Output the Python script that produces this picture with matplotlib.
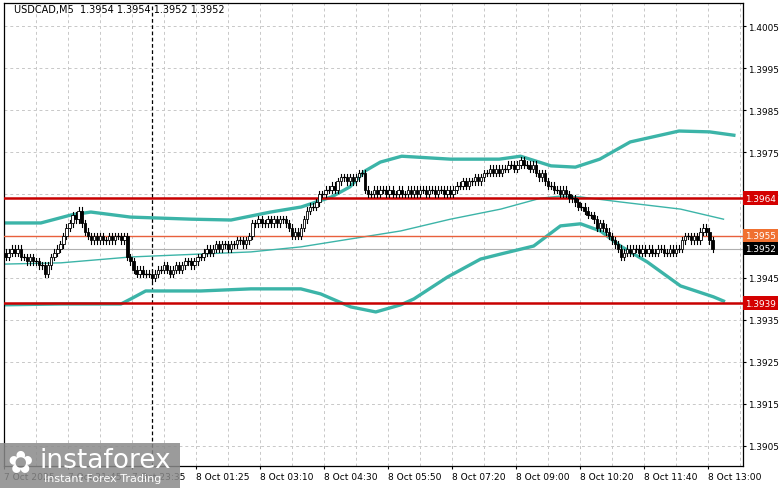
import matplotlib
matplotlib.use("Agg")
import matplotlib.pyplot as plt
from matplotlib.patches import Rectangle
import numpy as np

# closes in pips above 1.3900
close_pips = [50,51,52,51,52,50,50,49,50,49,49,48,48,
              46,48,50,51,52,53,
              55,57,58,60,59,61,58,56,
              55,54,55,54,55,54,54,55,54,55,55,54,55,
              50,49,47,46,47,46,46,46,
              45,46,47,47,48,47,46,47,48,47,
              48,49,49,48,49,50,50,51,
              52,51,52,53,52,53,53,52,53,53,54,
              54,53,54,55,
              58,58,59,58,58,59,58,59,58,59,59,58,57,
              55,56,55,57,59,
              61,62,62,63,65,65,66,66,
              67,66,68,69,69,68,69,68,69,70,70,
              66,65,65,66,65,66,66,65,66,65,65,66,65,65,66,65,66,65,66,66,65,66,66,65,66,66,65,66,65,
              66,67,67,68,67,68,68,69,68,69,
              70,70,71,70,71,70,71,71,72,72,71,72,73,72,72,71,72,
              70,69,70,68,67,67,66,66,65,66,65,64,64,63,62,62,61,60,60,59,57,58,57,56,55,54,53,52,50,
              51,52,51,52,52,51,52,51,52,51,51,52,52,51,51,52,51,52,52,
              54,55,55,54,55,54,56,57,56,54,52]
closes = [1.39 + v / 10000 for v in close_pips]
opens = [closes[0] + 0.0001] + closes[:-1]

upper_x = [-0.5,11.6,21.5,28,41,61,74,87,97,107,113,118,123,130,146,162,169,179,187,195,205,221,231,239]
upper_y = [1.39581,1.39581,1.39600,1.39607,1.39595,1.39590,1.39588,1.39607,1.39619,1.39643,1.39667,1.39705,1.39726,1.39740,1.39733,1.39733,1.39740,1.39717,1.39714,1.39733,1.39774,1.39800,1.39798,1.39790]
lower_x = [-0.5,18.2,37.9,41.1,46,64.1,80.5,96.9,103.4,113.3,121.5,129.7,134,145,155.9,162.5,173.3,182.1,188.7,195.2,201.8,210.6,221.5,232.3,235.6]
lower_y = [1.39386,1.39388,1.39388,1.39400,1.39419,1.39419,1.39424,1.39424,1.39412,1.39381,1.39369,1.39386,1.39400,1.39452,1.39495,1.39507,1.39526,1.39574,1.39579,1.39562,1.39526,1.39488,1.39431,1.39405,1.39395]
mid_x = [-0.5,18.2,41.1,64.1,80.5,96.9,113.3,129.7,146,162.5,175.6,182.1,188.7,201.8,221.5,235.6]
mid_y = [1.39483,1.39486,1.39500,1.39507,1.39512,1.39524,1.39543,1.39562,1.39590,1.39614,1.39640,1.39645,1.39643,1.39631,1.39614,1.39590]

levels_red = [1.3964, 1.3939]
level_orange = 1.3955
last_price = 1.3952
yticks = [1.4005,1.3995,1.3985,1.3975,1.3965,1.3945,1.3935,1.3925,1.3915,1.3905]
xtick_pos = [-0.5,20.5,41.5,62.5,83.5,104.5,125.5,146.5,167.5,188.5,209.5,230.5]
xtick_lab = ["7 Oct 2025","7 Oct 21:45","7 Oct 23:35","8 Oct 01:25","8 Oct 03:10","8 Oct 04:30",
             "8 Oct 05:50","8 Oct 07:20","8 Oct 09:00","8 Oct 10:20","8 Oct 11:40","8 Oct 13:00"]

fig = plt.figure(figsize=(7.81, 4.89), dpi=100)
ax = fig.add_axes([4/781, (489-467)/489, (743-4)/781, (467-4)/489])
ax.set_xlim(-0.5, 242)
ax.set_ylim(1.39002, 1.40105)

for xv in np.arange(-0.5, 243, 10.5):
    ax.axvline(xv, color="#c8c8c8", lw=0.7, ls=(0, (3, 3)), zorder=0)
for yv in yticks + [1.3955]:
    ax.axhline(yv, color="#c8c8c8", lw=0.7, ls=(0, (3, 3)), zorder=0)

ax.axvline(48, color="black", lw=0.9, ls=(0, (3, 2)), zorder=1)

ax.plot(upper_x, upper_y, color="#3cb4a8", lw=2.4, zorder=2)
ax.plot(lower_x, lower_y, color="#3cb4a8", lw=2.4, zorder=2)
ax.plot(mid_x, mid_y, color="#3cb4a8", lw=1.0, zorder=2)

for lv in levels_red:
    ax.axhline(lv, color="#c80000", lw=1.8, zorder=3)
ax.axhline(level_orange, color="#e8603c", lw=1.0, zorder=3)
ax.axhline(last_price, color="#b0b0b0", lw=0.8, zorder=1)

for i, (o, c) in enumerate(zip(opens, closes)):
    hi = max(o, c) + 0.00008
    lo = min(o, c) - 0.00008
    ax.plot([i, i], [lo, hi], color="black", lw=0.8, zorder=4)
    bull = c >= o
    h = abs(c - o)
    if h < 0.00002:
        ax.plot([i - 0.4, i + 0.4], [c, c], color="black", lw=0.9, zorder=5)
    else:
        ax.add_patch(Rectangle((i - 0.4, min(o, c)), 0.8, h, facecolor="white" if bull else "black",
                               edgecolor="black", lw=0.6, zorder=5))

ax.yaxis.tick_right()
ax.set_yticks(yticks)
ax.set_yticklabels([f"{v:.4f}" for v in yticks], fontsize=6.4)
ax.set_xticks(xtick_pos)
ax.set_xticklabels(xtick_lab, fontsize=6.6, ha="left")
ax.tick_params(length=2.5, width=0.8, pad=1.5)
for s in ax.spines.values():
    s.set_linewidth(0.9)

for lv, fc in [(1.3964, "#d40000"), (1.3939, "#d40000"), (1.3955, "#f07030"), (1.3952, "black")]:
    ax.text(1.003, lv, f"{lv:.4f}", transform=ax.get_yaxis_transform(), fontsize=6.4, color="white",
            va="center", ha="left", bbox=dict(boxstyle="square,pad=0.25", fc=fc, ec="none"), zorder=10)

fig.text(14/781, 1 - 10/489, "USDCAD,M5  1.3954 1.3954 1.3952 1.3952", fontsize=7, va="center")

fig.patches.append(Rectangle((0, 0), 180/781, 45/489, transform=fig.transFigure,
                             facecolor="#8a8a8a", alpha=0.85, zorder=20))
fig.text(40/781, 1 - 461/489, "instaforex", fontsize=19, color="white", va="center", zorder=21)
fig.text(44/781, 1 - 479/489, "Instant Forex Trading", fontsize=8, color="white", va="center", zorder=21)
fig.text(7/781, 1 - 465/489, "✿", fontsize=22, color="white", va="center", zorder=21)

fig.savefig("out.png", dpi=100)
